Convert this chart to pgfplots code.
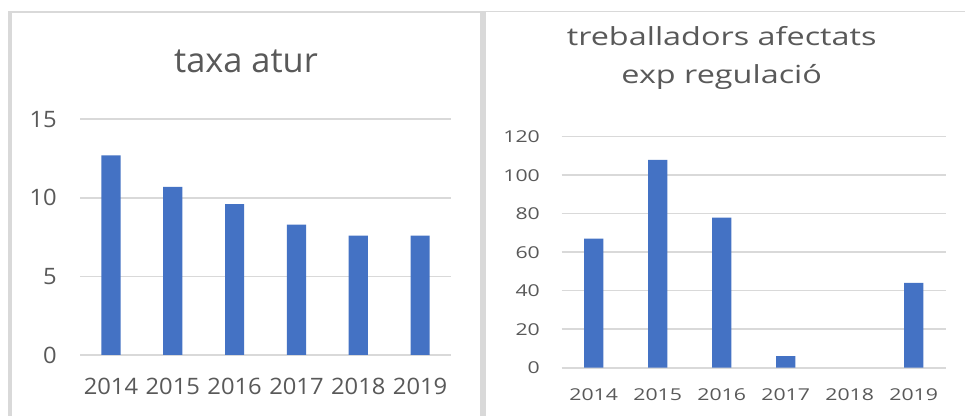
\documentclass[border=0pt]{standalone}
\usepackage{fontspec}
\setmainfont{Open Sans}
\newfontfamily\widefont{Open Sans}[FakeStretch=1.3]
\newfontfamily\leftfont{Open Sans}[FakeStretch=1.05]
\usepackage{pgfplots}
\pgfplotsset{compat=1.18}
\definecolor{barblue}{HTML}{4472C4}
\definecolor{txtgrey}{HTML}{595959}
\definecolor{gridgrey}{HTML}{D9D9D9}
\pgfplotsset{
  excelbars/.style={
    scale only axis, clip=false,
    ybar, bar width=0.31,
    xmin=-0.5, xmax=5.5, ymin=0,
    xtick={0,1,2,3,4,5},
    xticklabels={2014,2015,2016,2017,2018,2019},
    axis line style={draw=none},
    major tick length=0pt,
    ymajorgrids, grid style={gridgrey, line width=1.6bp},
    tick label style={text=txtgrey, inner sep=0pt},
    /pgf/number format/assume math mode=true,
  }
}
\begin{document}
\begin{tikzpicture}
% panel backgrounds
\fill[white] (0,0) rectangle (965bp,416bp);
\fill[gridgrey] (8bp,0) rectangle (965bp,405bp);
\fill[white] (12bp,0) rectangle (480bp,403bp);
\fill[white] (486bp,0) rectangle (965bp,404bp);

% left: taxa atur
\node[anchor=base, text=txtgrey, font=\fontsize{34.5}{40}\selectfont] at (246bp,343.3bp) {taxa atur};
\begin{axis}[excelbars, at={(80bp,61bp)}, anchor=south west,
  width=371bp, height=235.7bp, ymax=15, ytick={0,5,10,15},
  tick label style={font=\leftfont\fontsize{22.7}{26}\selectfont},
  yticklabel style={anchor=east, xshift=-23bp},
  xticklabel style={anchor=center, yshift=-31.7bp}]
\addplot[fill=barblue, draw=none] coordinates {(0,12.7) (1,10.7) (2,9.6) (3,8.3) (4,7.6) (5,7.6)};
\end{axis}

% right: treballadors afectats exp regulacio
\node[anchor=base, text=txtgrey, font=\widefont\fontsize{25}{30}\selectfont] at (721.7bp,370.3bp) {treballadors afectats};
\node[anchor=base, text=txtgrey, font=\widefont\fontsize{25}{30}\selectfont] at (721.7bp,332.7bp) {exp regulació};
\begin{axis}[excelbars, at={(561.7bp,48.3bp)}, anchor=south west,
  width=384bp, height=231bp, ymax=120, ytick={0,20,40,60,80,100,120},
  bar width=0.30,
  tick label style={font=\widefont\fontsize{16.4}{19}\selectfont},
  yticklabel style={anchor=east, xshift=-21.7bp},
  xticklabel style={anchor=center, yshift=-27.3bp}]
% 2018 has no value (no bar drawn)
\addplot[fill=barblue, draw=none] coordinates {(0,67) (1,108) (2,78) (3,6) (5,44)};
\end{axis}
\end{tikzpicture}
\end{document}
